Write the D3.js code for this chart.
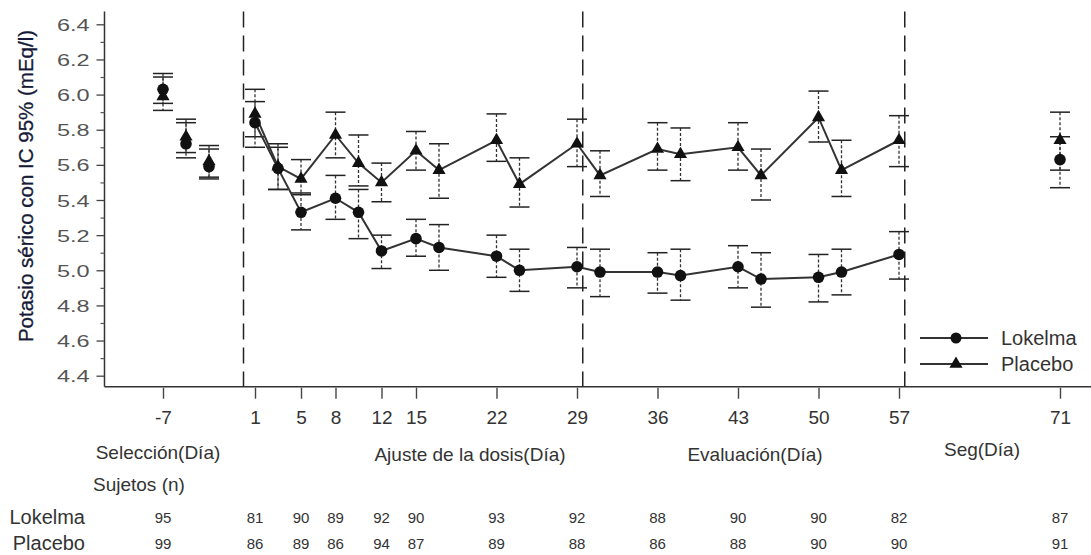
<!DOCTYPE html>
<html><head><meta charset="utf-8">
<script src="https://cdn.jsdelivr.net/npm/d3@7"></script>
<style>
body{margin:0;background:#fff}
svg{display:block}
text{font-family:"Liberation Sans",Arial,sans-serif}
</style>
</head><body>
<svg id="c" width="1091" height="555"></svg>
<script>
// ---------------- DATA ----------------
const days      = [1,3,5,8,10,12,15,17,22,24,29,31,36,38,43,45,50,52,57];
const lokMean   = [5.84,5.58,5.33,5.41,5.33,5.11,5.18,5.13,5.08,5.00,5.02,4.99,4.99,4.97,5.02,4.95,4.96,4.99,5.09];
const lokLo     = [5.70,5.46,5.23,5.29,5.18,5.01,5.08,5.00,4.96,4.88,4.90,4.85,4.87,4.83,4.90,4.79,4.82,4.86,4.95];
const lokHi     = [5.96,5.70,5.44,5.54,5.46,5.20,5.29,5.26,5.20,5.12,5.13,5.12,5.10,5.12,5.14,5.10,5.09,5.12,5.22];
const plaMean   = [5.89,5.59,5.52,5.77,5.61,5.50,5.68,5.57,5.74,5.49,5.72,5.54,5.69,5.66,5.70,5.54,5.87,5.57,5.74];
const plaLo     = [5.76,5.46,5.43,5.64,5.48,5.39,5.57,5.41,5.62,5.36,5.59,5.42,5.57,5.51,5.57,5.40,5.73,5.42,5.59];
const plaHi     = [6.03,5.72,5.63,5.90,5.77,5.61,5.79,5.72,5.89,5.64,5.86,5.68,5.84,5.81,5.84,5.69,6.02,5.74,5.88];

const screenDays    = [-7,-5,-3];
const lokScreenMean = [6.03,5.72,5.59];
const lokScreenLo   = [5.95,5.64,5.52];
const lokScreenHi   = [6.10,5.84,5.69];
const plaScreenMean = [5.99,5.76,5.62];
const plaScreenLo   = [5.91,5.67,5.53];
const plaScreenHi   = [6.12,5.86,5.71];

const followDays    = [71];
const lokFollowMean = [5.63];
const lokFollowLo   = [5.47];
const lokFollowHi   = [5.76];
const plaFollowMean = [5.74];
const plaFollowLo   = [5.57];
const plaFollowHi   = [5.90];

const tickDays  = [-7,1,5,8,12,15,22,29,36,43,50,57,71];
const nLokelma  = [95,81,90,89,92,90,93,92,88,90,90,82,87];
const nPlacebo  = [99,86,89,86,94,87,89,88,86,88,90,90,91];
const phaseBreaks = [0,29.5,57.5];
const yMajor = [4.4,4.6,4.8,5.0,5.2,5.4,5.6,5.8,6.0,6.2,6.4];
const yMinor = [4.5,4.7,4.9,5.1,5.3,5.5,5.7,5.9,6.1,6.3];
const phaseLabels = ["Selección(Día)","Ajuste de la dosis(Día)","Evaluación(Día)","Seg(Día)"];
const seriesNames = ["Lokelma","Placebo"];
const yTitle = "Potasio sérico con IC 95% (mEq/l)";
const subjectsTitle = "Sujetos (n)";

// ---------------- LAYOUT ----------------
const svg = d3.select("#c");
const x = d3.scaleLinear().domain([0,57.5]).range([243.5,904.75]);
const y = d3.scaleLinear().domain([4.4,6.4]).range([375.7,24.3]);
const plotLeft = 104.5, plotRight = 1091, plotTop = 11.5, plotBottom = 386.7;

// axes lines
svg.append("line").attr("x1",plotLeft).attr("x2",plotLeft).attr("y1",plotTop).attr("y2",plotBottom)
  .attr("stroke","#333").attr("stroke-width",1.5);
svg.append("line").attr("x1",plotLeft).attr("x2",plotRight).attr("y1",plotBottom).attr("y2",plotBottom)
  .attr("stroke","#333").attr("stroke-width",1.5);

// y axis ticks
const yAx = svg.append("g").attr("transform",`translate(${plotLeft},0)`)
  .call(d3.axisLeft(y).tickValues(yMajor).tickSize(8).tickPadding(0).tickFormat(d3.format(".1f")));
yAx.select(".domain").remove();
yAx.selectAll(".tick line").attr("stroke","#444").attr("stroke-width",1.3);
yAx.selectAll(".tick text").attr("font-size",17).attr("fill","#555")
  .attr("x",null).attr("dy",null)
  .attr("transform","translate(-15,6) scale(1.38,1)").attr("text-anchor","end");
const yMin = svg.append("g").attr("transform",`translate(${plotLeft},0)`)
  .call(d3.axisLeft(y).tickValues(yMinor).tickSize(4).tickFormat(""));
yMin.select(".domain").remove();
yMin.selectAll(".tick line").attr("stroke","#555").attr("stroke-width",1.2);

// x axis ticks
const xAx = svg.append("g").attr("transform",`translate(0,${plotBottom+1})`)
  .call(d3.axisBottom(x).tickValues(tickDays).tickSize(11).tickPadding(12).tickFormat(d=>String(d)));
xAx.select(".domain").remove();
xAx.selectAll(".tick line").attr("stroke","#444").attr("stroke-width",1.4);
xAx.selectAll(".tick text").attr("font-size",19).attr("fill","#333");

// y title
svg.append("text").attr("transform","translate(33,186) rotate(-90)").attr("text-anchor","middle")
  .attr("font-size",20.5).attr("fill","#151a38").attr("stroke","#151a38").attr("stroke-width",0.3).text(yTitle);

// phase dashed lines
svg.selectAll(".phase").data(phaseBreaks).join("line")
  .attr("x1",d=>x(d)).attr("x2",d=>x(d)).attr("y1",plotTop).attr("y2",plotBottom)
  .attr("stroke","#222").attr("stroke-width",1.5).attr("stroke-dasharray","16,8");

// helpers
function zip(dd,m,lo,hi){return dd.map((d,i)=>({d,m:m[i],lo:lo[i],hi:hi[i]}));}
const lokAll = [...zip(screenDays,lokScreenMean,lokScreenLo,lokScreenHi), ...zip(days,lokMean,lokLo,lokHi), ...zip(followDays,lokFollowMean,lokFollowLo,lokFollowHi)];
const plaAll = [...zip(screenDays,plaScreenMean,plaScreenLo,plaScreenHi), ...zip(days,plaMean,plaLo,plaHi), ...zip(followDays,plaFollowMean,plaFollowLo,plaFollowHi)];
const lokMain = zip(days,lokMean,lokLo,lokHi);
const plaMain = zip(days,plaMean,plaLo,plaHi);

function errBars(data){
  const g = svg.append("g");
  g.selectAll(".v").data(data).join("line")
    .attr("x1",p=>x(p.d)).attr("x2",p=>x(p.d)).attr("y1",p=>y(p.hi)).attr("y2",p=>y(p.lo))
    .attr("stroke","#333").attr("stroke-width",1.3).attr("stroke-dasharray","3,2");
  ["hi","lo"].forEach(k=>{
    g.selectAll(".c"+k).data(data).join("line")
      .attr("x1",p=>x(p.d)-10).attr("x2",p=>x(p.d)+10).attr("y1",p=>y(p[k])).attr("y2",p=>y(p[k]))
      .attr("stroke","#222").attr("stroke-width",1.5);
  });
}
errBars(plaAll);
errBars(lokAll);

const line = d3.line().x(p=>x(p.d)).y(p=>y(p.m));
svg.append("path").datum(plaMain).attr("d",line).attr("fill","none").attr("stroke","#333").attr("stroke-width",2);
svg.append("path").datum(lokMain).attr("d",line).attr("fill","none").attr("stroke","#333").attr("stroke-width",2);

const tri = d3.symbol().type(d3.symbolTriangle).size(75);
svg.append("g").selectAll("path").data(plaAll).join("path")
  .attr("d",tri).attr("transform",p=>`translate(${x(p.d)},${y(p.m)})`).attr("fill","#111");
svg.append("g").selectAll("circle").data(lokAll).join("circle")
  .attr("cx",p=>x(p.d)).attr("cy",p=>y(p.m)).attr("r",5.8).attr("fill","#111");

// legend
const lg = svg.append("g");
[0,1].forEach(i=>{
  const ly = 338 + i*26;
  lg.append("line").attr("x1",920).attr("x2",988).attr("y1",ly).attr("y2",ly).attr("stroke","#333").attr("stroke-width",1.8);
  if(i===0) lg.append("circle").attr("cx",956).attr("cy",ly).attr("r",5.5).attr("fill","#111");
  else lg.append("path").attr("d",tri).attr("transform",`translate(956,${ly})`).attr("fill","#111");
  lg.append("text").attr("x",1001).attr("y",ly+7).attr("font-size",20).attr("fill","#333").text(seriesNames[i]);
});

// phase labels
const phaseX = [158,470,755,982], phaseY = [459,461,461,456];
phaseLabels.forEach((t,i)=>{
  svg.append("text").attr("x",phaseX[i]).attr("y",phaseY[i]).attr("text-anchor","middle")
    .attr("font-size",19).attr("fill","#333").text(t);
});
svg.append("text").attr("x",93).attr("y",491).attr("font-size",19).attr("fill","#333").text(subjectsTitle);

// subjects table
svg.append("text").attr("x",85).attr("y",524).attr("text-anchor","end").attr("font-size",20).attr("fill","#333").text(seriesNames[0]);
svg.append("text").attr("x",85).attr("y",550).attr("text-anchor","end").attr("font-size",20).attr("fill","#333").text(seriesNames[1]);
svg.append("g").selectAll("text").data(tickDays).join("text")
  .attr("x",d=>x(d)).attr("y",523).attr("text-anchor","middle").attr("font-size",15).attr("fill","#333")
  .text((d,i)=>nLokelma[i]);
svg.append("g").selectAll("text").data(tickDays).join("text")
  .attr("x",d=>x(d)).attr("y",549).attr("text-anchor","middle").attr("font-size",15).attr("fill","#333")
  .text((d,i)=>nPlacebo[i]);
</script>
</body></html>
